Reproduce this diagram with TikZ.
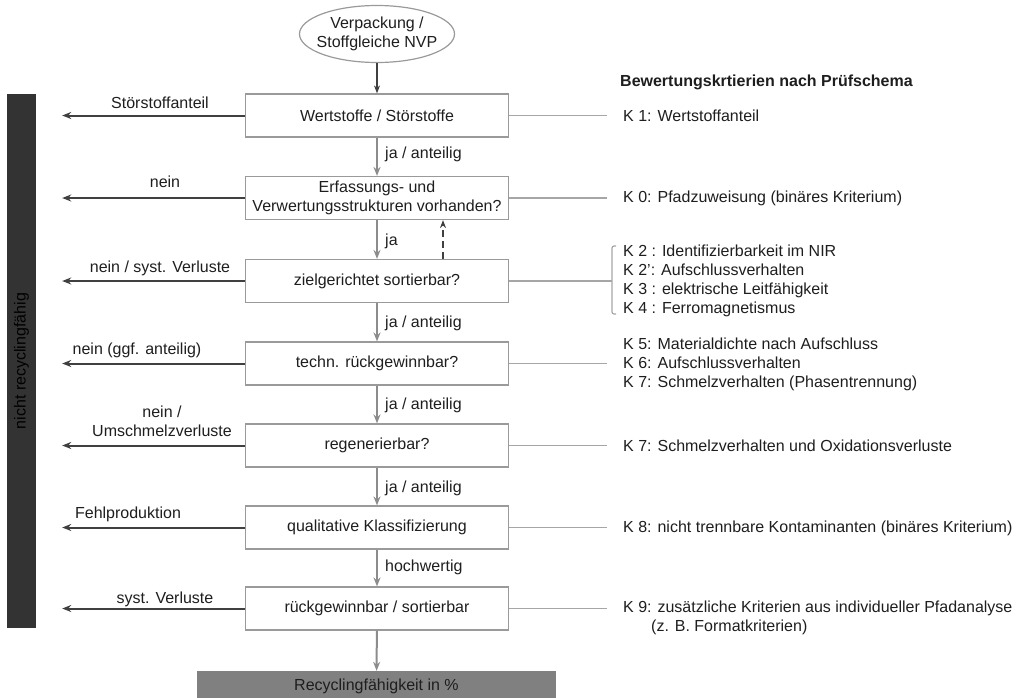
\documentclass[tikz,border=0pt]{standalone}
\usepackage{fontspec}
\setmainfont{Liberation Sans}
\usetikzlibrary{arrows.meta,shapes.geometric}
\definecolor{boxline}{HTML}{9A9A9A}
\definecolor{darkarrow}{HTML}{404040}
\definecolor{grayarrow}{HTML}{8C8C8C}
\definecolor{rline}{HTML}{A6A6A6}
\definecolor{barfill}{HTML}{333333}
\definecolor{resfill}{HTML}{808080}
\definecolor{txt}{HTML}{1E1E1E}
\begin{document}
\begin{tikzpicture}[x=1pt,y=-1pt, font=\fontsize{16}{19}\selectfont, text=txt,
 procbox/.style={draw=boxline, line width=1.2pt, minimum width=263pt, minimum height=43pt, inner sep=0pt, align=center},
 leftarr/.style={draw=darkarrow, line width=2pt, -{Stealth[length=9pt,width=7pt]}},
 downarr/.style={draw=grayarrow, line width=2pt, -{Stealth[length=9pt,width=7pt]}},
 darkdown/.style={draw=darkarrow, line width=1.4pt, -{Stealth[length=8pt,width=6pt]}},
 backarr/.style={draw=darkarrow, line width=1.4pt, dash pattern=on 7pt off 4pt, -{Stealth[length=8pt,width=6pt]}},
 rconn/.style={draw=rline, line width=1.2pt},
 crit/.style={anchor=west, inner sep=0pt, align=left},
 lab/.style={inner sep=0pt, align=center},
]
\useasboundingbox (0,0) rectangle (1021,697);

% source ellipse
\node[ellipse, draw=boxline, line width=1.2pt, minimum width=155pt, minimum height=57pt, inner sep=0pt] (src) at (377,34) {};
\node[lab] (srctext) at (src.center) {Verpackung /\\Stoffgleiche NVP};

% process boxes
\node[procbox] (b1) at (377,115.5) {Wertstoffe / Störstoffe};
\node[procbox] (b2) at (377,198) {Erfassungs- und\\Verwertungsstrukturen vorhanden?};
\node[procbox] (b3) at (377,281) {zielgerichtet sortierbar?};
\node[procbox] (b4) at (377,363.5) {techn. rückgewinnbar?};
\node[procbox] (b5) at (377,445.5) {regenerierbar?};
\node[procbox] (b6) at (377,527.5) {qualitative Klassifizierung};
\node[procbox] (b7) at (377,608.5) {rückgewinnbar / sortierbar};
\node[fill=resfill, minimum width=359pt, minimum height=30pt, inner sep=0pt] (res) at (376.5,686) {Recyclingfähigkeit in \%};

% left bar
\node[fill=barfill, minimum width=29pt, minimum height=534pt, inner sep=0pt] (bar) at (21.5,361) {};
\node[rotate=90, text=black, inner sep=0pt] (bartext) at (bar.center) {nicht recyclingfähig};

% vertical arrows
\draw[darkdown] (src) -- (b1);
\draw[downarr] (b1) -- (b2);
\draw[downarr] (b2) -- (b3);
\draw[downarr] (b3) -- (b4);
\draw[downarr] (b4) -- (b5);
\draw[downarr] (b5) -- (b6);
\draw[downarr] (b6) -- (b7);
\draw[downarr] (b7) -- (res);
\draw[backarr] ([xshift=66pt]b3.north) -- ([xshift=66pt]b2.south);

% labels on vertical arrows
\node[lab, anchor=west] (v1) at (385,154) {ja / anteilig};
\node[lab, anchor=west] (v2) at (385,241) {ja};
\node[lab, anchor=west] (v3) at (385,323) {ja / anteilig};
\node[lab, anchor=west] (v4) at (385,405) {ja / anteilig};
\node[lab, anchor=west] (v5) at (385,488) {ja / anteilig};
\node[lab, anchor=west] (v6) at (385,567) {hochwertig};

% left arrows
\foreach \b in {b1,b2,b3,b4,b5,b6,b7}{
  \draw[leftarr] (\b.west) -- ([xshift=26pt]\b.west -| bar.east);
}
\node[lab] (l1) at (160,103) {Störstoffanteil};
\node[lab] (l2) at (165,182) {nein};
\node[lab] (l3) at (160,268) {nein / syst. Verluste};
\node[lab] (l4) at (137,350) {nein (ggf. anteilig)};
\node[lab] (l5) at (162,421) {nein /\\Umschmelzverluste};
\node[lab] (l6) at (128,514) {Fehlproduktion};
\node[lab] (l7) at (165,599) {syst. Verluste};

% criteria
\node[crit] (hdr) at (620,82) {\textbf{Bewertungskrtierien nach Prüfschema}};
\node[crit] (k1) at (623,116) {K 1: Wertstoffanteil};
\node[crit] (k0) at (623,198) {K 0: Pfadzuweisung (binäres Kriterium)};
\node[crit] (k2) at (623,281) {K 2 : Identifizierbarkeit im NIR\\K 2': Aufschlussverhalten\\K 3 : elektrische Leitfähigkeit\\K 4 : Ferromagnetismus};
\node[crit] (k5) at (623,364) {K 5: Materialdichte nach Aufschluss\\K 6: Aufschlussverhalten\\K 7: Schmelzverhalten (Phasentrennung)};
\node[crit] (k7) at (623,446) {K 7: Schmelzverhalten und Oxidationsverluste};
\node[crit] (k8) at (623,528) {K 8: nicht trennbare Kontaminanten (binäres Kriterium)};
\node[crit] (k9) at (623,618) {K 9: zusätzliche Kriterien aus individueller Pfadanalyse\\\hspace*{28pt}(z. B. Formatkriterien)};

% right connectors
\draw[rconn] (b1.east) -- ([xshift=-16pt]b1.east -| k1.west);
\draw[rconn] (b2.east) -- ([xshift=-16pt]b2.east -| k0.west);
\draw[rconn] (b3.east) -- ([xshift=-11pt]b3.east -| k2.west);
\draw[rconn, rounded corners=2pt] ([xshift=-7pt,yshift=-33pt]k2.west) -- ([xshift=-11pt,yshift=-33pt]k2.west) -- ([xshift=-11pt,yshift=35pt]k2.west) -- ([xshift=-7pt,yshift=35pt]k2.west);
\draw[rconn] (b4.east) -- ([xshift=-16pt]b4.east -| k5.west);
\draw[rconn] (b5.east) -- ([xshift=-16pt]b5.east -| k7.west);
\draw[rconn] (b6.east) -- ([xshift=-16pt]b6.east -| k8.west);
\draw[rconn] (b7.east) -- ([xshift=-16pt]b7.east -| k9.west);
\end{tikzpicture}
\end{document}
